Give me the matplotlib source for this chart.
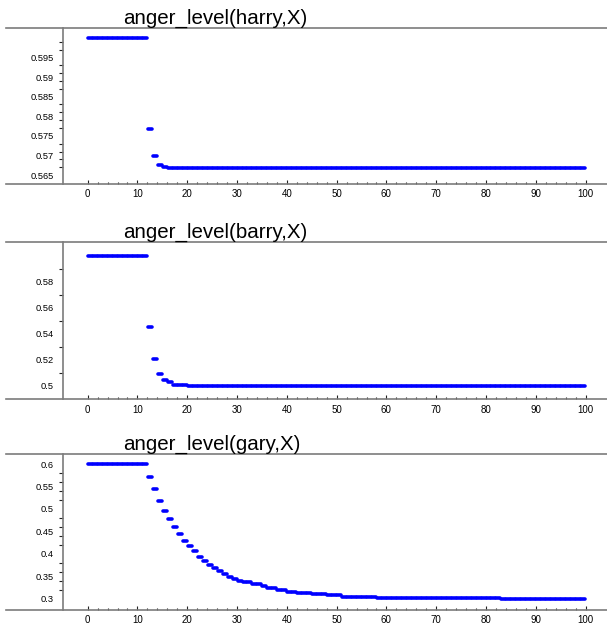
import matplotlib
matplotlib.use("Agg")
import matplotlib.pyplot as plt
import numpy as np
from matplotlib.ticker import FixedLocator, FuncFormatter

# time steps 0..99, each value drawn as a short dash over [t, t+1]
TIMES = np.arange(0, 100)

HARRY = [0.6] * 12 + [0.5767, 0.5698, 0.5676, 0.5670] + [0.5667] * 84
BARRY = ([0.6] * 12
         + [0.545, 0.5205, 0.5094, 0.5046, 0.5028, 0.501, 0.501, 0.501]
         + [0.5] * 80)
GARY = ([0.6] * 12
        + [0.5703, 0.5436, 0.5176, 0.4953, 0.4768, 0.459, 0.4434, 0.4285,
           0.4174, 0.4055, 0.3936, 0.3847, 0.3757, 0.3684, 0.361, 0.355,
           0.349, 0.3446]
        + [0.3405, 0.3365, 0.3365, 0.3327, 0.3327, 0.3283, 0.3238, 0.3238,
           0.3194, 0.3194, 0.3157, 0.3157]
        + [0.3127] * 3 + [0.31] * 3 + [0.3075] * 3 + [0.3045] * 7
        + [0.3022] * 25 + [0.3] * 17)

TITLES = ["anger_level(harry,X)", "anger_level(barry,X)", "anger_level(gary,X)"]
SERIES = [HARRY, BARRY, GARY]

# y tick labels and tick marks per panel
Y_LABELS = [np.arange(0.565, 0.5951, 0.005),
            np.arange(0.5, 0.5801, 0.02),
            np.arange(0.3, 0.6001, 0.05)]
Y_MARKS = [np.arange(0.565, 0.5991, 0.002),
           np.arange(0.5, 0.5901, 0.01),
           np.arange(0.3, 0.5801, 0.02)]
Y_LIMS = [(0.5628, 0.6025), (0.49, 0.6102), (0.2755, 0.623)]

# axes boxes in pixels: (top, bottom)
BOXES = [(28, 183.7), (242.3, 399), (453.7, 609.7)]

W, H = 607, 626
AXIS_GREY = "#7c7c7c"


def fmt(v, pos):
    return f"{v:.3f}".rstrip("0").rstrip(".")


def main() -> None:
    fig = plt.figure(figsize=(W / 100, H / 100), dpi=100)
    plt.rcParams["font.family"] = ["Liberation Sans", "DejaVu Sans"]

    for title, values, ylabs, ymarks, ylim, (top, bot) in zip(
            TITLES, SERIES, Y_LABELS, Y_MARKS, Y_LIMS, BOXES):
        ax = fig.add_axes([6 / W, 1 - bot / H, 601 / W, (bot - top) / H])
        ax.hlines(values, TIMES + 0.1, TIMES + 0.9, colors="#0000ff",
                  linewidth=2.6, capstyle="round")

        ax.set_xlim(-16.4, 104.3)
        ax.set_ylim(*ylim)

        ax.spines["right"].set_visible(False)
        ax.spines["left"].set_position(("data", -5))
        for side in ("top", "bottom", "left"):
            ax.spines[side].set_color(AXIS_GREY)
            ax.spines[side].set_linewidth(1.2)

        ax.xaxis.set_major_locator(FixedLocator(np.arange(0, 101, 10)))
        ax.xaxis.set_minor_locator(FixedLocator(np.arange(0, 101, 2)))
        ax.tick_params(axis="x", which="major", direction="in", length=3,
                       width=0.8, color="#222222", labelsize=7, pad=4)
        ax.tick_params(axis="x", which="minor", direction="in", length=1.2,
                       width=0.8, color="#222222")

        ax.yaxis.set_major_locator(FixedLocator(ylabs))
        ax.yaxis.set_minor_locator(FixedLocator(ymarks))
        ax.yaxis.set_major_formatter(FuncFormatter(fmt))
        ax.tick_params(axis="y", which="major", length=0, labelsize=6.7,
                       pad=6.5)
        ax.tick_params(axis="y", which="minor", direction="out", length=3,
                       width=0.8, color="#222222")

        ax.set_title(title, loc="left", x=117 / 601, pad=3, fontsize=14.8)

    fig.savefig("out.png", dpi=100)


if __name__ == "__main__":
    main()
